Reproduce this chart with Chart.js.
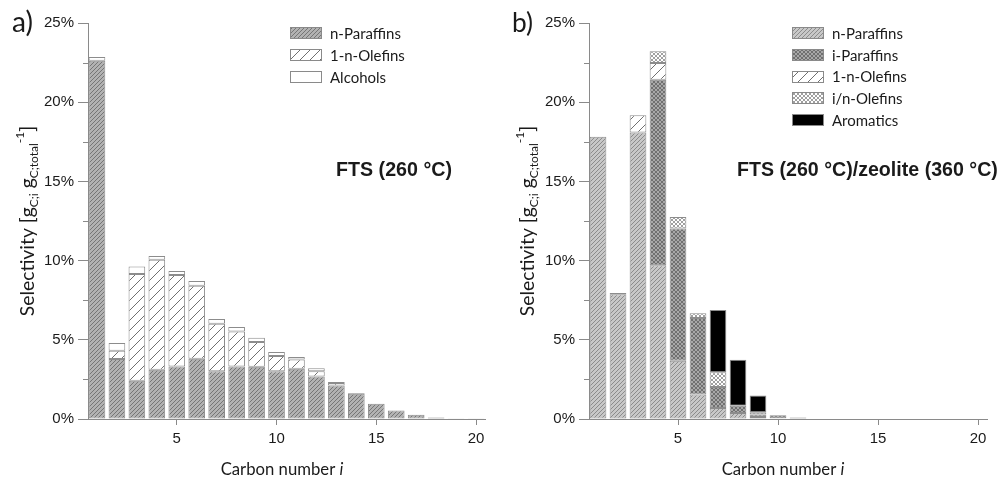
<!DOCTYPE html>
<html><head><meta charset="utf-8">
<script src="https://cdn.jsdelivr.net/npm/chart.js@4.4.1/dist/chart.umd.min.js"></script>
<style>
html,body{margin:0;padding:0;background:#fff;width:1000px;height:479px;overflow:hidden}
.w{position:absolute;top:0;width:500px;height:479px}
</style></head><body>
<div class="w" style="left:0"><canvas id="ca" width="500" height="479"></canvas></div>
<div class="w" style="left:500px"><canvas id="cb" width="500" height="479"></canvas></div>
<script>
// ---------- data ----------
const carbonNumbers = [1,2,3,4,5,6,7,8,9,10,11,12,13,14,15,16,17,18,19,20];
const yTickValues = [0,5,10,15,20,25];
const yMinorTicks = [2.5,7.5,12.5,17.5,22.5];
const xTickValues = [5,10,15,20];

// panel a) FTS (260 °C)
const aNParaffins = [22.62,3.79,2.42,3.11,3.32,3.81,3.01,3.32,3.30,3.01,3.18,2.69,2.12,1.60,0.97,0.53,0.27,0.10,0.04,0.02];
const aOlefins    = [null,0.52,6.73,6.95,5.77,4.61,3.01,2.21,1.56,0.97,0.57,0.32,0.15,0.04,null,null,null,null,null,null];
const aAlcohols   = [0.23,0.49,0.47,0.23,0.25,0.29,0.29,0.28,0.27,0.25,0.16,0.19,0.07,null,null,null,null,null,null,null];

// panel b) FTS (260 °C)/zeolite (360 °C)
const bNParaffins = [17.82,7.87,18.09,9.70,3.68,1.55,0.69,0.38,0.13,0.05,0.03,null,0.03,null,null,null,null,null,null,null];
const bIParaffins = [null,null,null,11.72,8.35,4.83,1.33,0.46,0.15,0.18,0.06,null,null,null,null,null,null,null,null,null];
const bOlefins    = [null,0.08,1.08,1.05,null,null,null,null,null,null,null,null,null,null,null,null,null,null,null,null];
const bINOlefins  = [null,null,null,0.74,0.72,0.30,0.93,null,0.15,null,null,null,null,null,null,null,null,null,null,null];
const bAromatics  = [null,null,null,null,null,null,3.93,2.90,1.05,null,null,null,null,null,null,null,null,null,null,null];

// ---------- patterns ----------
function tile(s, bg, fg, lw, both){
  const c=document.createElement('canvas'); c.width=c.height=s;
  const x=c.getContext('2d');
  if(bg){x.fillStyle=bg;x.fillRect(0,0,s,s);}
  x.strokeStyle=fg; x.lineWidth=lw; x.beginPath();
  x.moveTo(-1,s+1);x.lineTo(s+1,-1);
  x.moveTo(-1,1);x.lineTo(1,-1);
  x.moveTo(s-1,s+1);x.lineTo(s+1,s-1);
  if(both){
    x.moveTo(-1,-1);x.lineTo(s+1,s+1);
    x.moveTo(s-1,-1);x.lineTo(s+1,1);
    x.moveTo(-1,s-1);x.lineTo(1,s+1);
  }
  x.stroke();
  return c;
}
function pat(ctx,c){return ctx.createPattern(c,'repeat');}

const FONT_TXT = 'Lato, "Open Sans", sans-serif';
const FONT_NUM = '"Liberation Sans", Arial, sans-serif';
const TXT = '#1a1a1a';
const AX = '#8a8a8a';

function fitSize(ctx, text, weight, family, target, base){
  ctx.font = weight+' '+base+'px '+family;
  const w = ctx.measureText(text).width;
  return base*target/w;
}

function decor(o){
  return {id:'decor', afterDraw(chart){
    const ctx=chart.ctx, ca=chart.chartArea, ys=chart.scales.y;
    ctx.save();
    // minor y ticks
    ctx.strokeStyle=AX; ctx.lineWidth=1; ctx.beginPath();
    for(const v of yMinorTicks){const py=Math.round(ys.getPixelForValue(v))+0.5; ctx.moveTo(ca.left-5,py); ctx.lineTo(ca.left,py);}
    ctx.stroke();
    ctx.fillStyle=TXT;
    // panel letter
    const ls=fitSize(ctx,o.letter,'normal',FONT_TXT,21,22);
    ctx.font='normal '+ls.toFixed(2)+'px '+FONT_TXT; ctx.textAlign='left'; ctx.textBaseline='alphabetic';
    ctx.fillText(o.letter,12,32);
    // annotation
    const as=fitSize(ctx,o.note,'bold',FONT_NUM,o.noteW,19);
    ctx.font='bold '+as.toFixed(2)+'px '+FONT_NUM;
    ctx.fillText(o.note,o.noteX,176);
    // x title
    const xs=fitSize(ctx,'Carbon number i','normal',FONT_TXT,123,18);
    ctx.font='normal '+xs.toFixed(2)+'px '+FONT_TXT;
    const w1=ctx.measureText('Carbon number ').width;
    ctx.font='italic '+xs.toFixed(2)+'px '+FONT_TXT;
    const w2=ctx.measureText('i').width;
    let x0=o.xTitleC-(w1+w2)/2;
    ctx.font='normal '+xs.toFixed(2)+'px '+FONT_TXT; ctx.fillText('Carbon number ',x0,475);
    ctx.font='italic '+xs.toFixed(2)+'px '+FONT_TXT; ctx.fillText('i',x0+w1,475);
    // y title (rotated, with sub/superscripts)
    const ms=fitSize(ctx,'Selectivity','normal',FONT_TXT,88,18);
    const parts=[['Selectivity [g',1,0],['C;i',0.62,4],[' g',1,0],['C;total',0.62,4],['-1',0.62,-10],[']',1,0]];
    let tot=0;
    for(const p of parts){ctx.font='normal '+(ms*p[1]).toFixed(2)+'px '+FONT_TXT; tot+=ctx.measureText(p[0]).width;}
    const mid=(ca.top+ca.bottom)/2;
    ctx.translate(o.yTitleX,mid+tot/2); ctx.rotate(-Math.PI/2);
    let cx=0;
    for(const p of parts){ctx.font='normal '+(ms*p[1]).toFixed(2)+'px '+FONT_TXT; ctx.fillText(p[0],cx,p[2]); cx+=ctx.measureText(p[0]).width;}
    ctx.setTransform(1,0,0,1,0,0);
    // legend
    const lsz=fitSize(ctx,'n-Paraffins','normal',FONT_TXT,71,16);
    ctx.font='normal '+lsz.toFixed(2)+'px '+FONT_TXT; ctx.textBaseline='middle';
    chart.data.datasets.forEach((ds,i)=>{
      const cy=o.legY+i*o.legDy;
      ctx.fillStyle=ds.backgroundColor; ctx.fillRect(o.legX,Math.round(cy-6),32,12);
      ctx.strokeStyle=AX; ctx.strokeRect(o.legX+0.5,Math.round(cy-6)+0.5,31,11);
      ctx.fillStyle=TXT; ctx.fillText(ds.label,o.legX+40,cy+1);
    });
    ctx.restore();
  }};
}

function makeChart(id, sets, o){
  const canvas=document.getElementById(id), ctx=canvas.getContext('2d');
  return new Chart(ctx,{
    type:'bar',
    data:{labels:carbonNumbers, datasets:sets(ctx).map(s=>({label:s[0],data:s[1],backgroundColor:s[2],borderColor:'#8c8c8c',borderWidth:1,borderSkipped:false,barPercentage:0.835,categoryPercentage:1}))},
    options:{
      responsive:false, animation:false, devicePixelRatio:1,
      layout:{padding:{left:0,right:o.padR,top:23,bottom:0}},
      plugins:{legend:{display:false},tooltip:{enabled:false}},
      scales:{
        x:{type:'linear',stacked:true,min:0.55,max:20.45,offset:false,
           afterBuildTicks:(s)=>{s.ticks=xTickValues.map(v=>({value:v}));},
           afterFit:(s)=>{s.height=60;},
           ticks:{font:{family:FONT_NUM,size:15},color:TXT,padding:5},
           grid:{offset:false,drawOnChartArea:false,drawTicks:true,tickLength:6,color:AX},
           border:{display:true,color:AX}},
        y:{stacked:true,min:0,max:25,
           afterBuildTicks:(s)=>{s.ticks=yTickValues.map(v=>({value:v}));},
           afterFit:(s)=>{s.width=o.yW;},
           ticks:{callback:v=>v+'%',font:{family:FONT_NUM,size:15},color:TXT,padding:4},
           grid:{drawOnChartArea:false,drawTicks:true,tickLength:10,color:AX},
           border:{display:true,color:AX}}
      }
    },
    plugins:[decor(o)]
  });
}

makeChart('ca', ctx=>[
  ['n-Paraffins',aNParaffins,pat(ctx,tile(4,'#b2b2b2','#767676',1,false))],
  ['1-n-Olefins',aOlefins,pat(ctx,tile(10,'#ffffff','#707070',1,false))],
  ['Alcohols',aAlcohols,'#ffffff']
],{letter:'a)',note:'FTS (260 °C)',noteX:336,noteW:116,xTitleC:282,yTitleX:34,yW:88,padR:15,legX:290,legY:33,legDy:22});

makeChart('cb', ctx=>[
  ['n-Paraffins',bNParaffins,pat(ctx,tile(4,'#c8c8c8','#8c8c8c',1,false))],
  ['i-Paraffins',bIParaffins,pat(ctx,tile(4,'#a8a8a8','#707070',1,true))],
  ['1-n-Olefins',bOlefins,pat(ctx,tile(10,'#ffffff','#707070',1,false))],
  ['i/n-Olefins',bINOlefins,pat(ctx,tile(4,'#ffffff','#a0a0a0',1,true))],
  ['Aromatics',bAromatics,'#000000']
],{letter:'b)',note:'FTS (260 °C)/zeolite (360 °C)',noteX:237,noteW:261,xTitleC:283,yTitleX:34,yW:89,padR:13,legX:292,legY:33,legDy:21.75});
</script>
</body></html>
